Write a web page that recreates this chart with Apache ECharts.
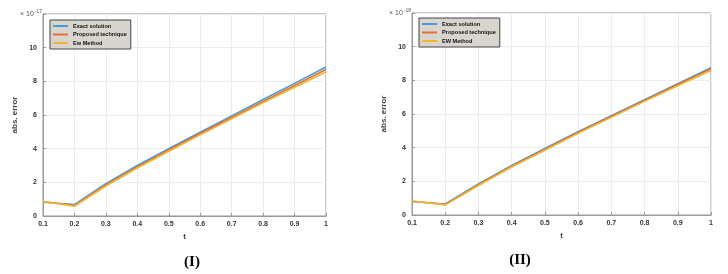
<!DOCTYPE html>
<html><head><meta charset="utf-8">
<script src="https://cdn.jsdelivr.net/npm/echarts@6/dist/echarts.min.js"></script>
<style>html,body{margin:0;padding:0;background:#fff}#c{width:728px;height:274px}</style>
</head><body><div id="c"></div>
<script>
var tValues = [0.1,0.2,0.3,0.4,0.5,0.6,0.7,0.8,0.9,1.0];
var leftExact    = [0.82,0.68,1.92,3.00,4.00,4.98,5.95,6.92,7.88,8.85];
var leftProposed = [0.85,0.62,1.85,2.92,3.92,4.90,5.85,6.80,7.75,8.70];
var leftEW       = [0.87,0.58,1.78,2.85,3.85,4.82,5.77,6.72,7.65,8.55];
var rightExact    = [0.80,0.65,1.85,2.95,3.95,4.95,5.90,6.85,7.80,8.75];
var rightProposed = [0.82,0.62,1.80,2.90,3.90,4.90,5.85,6.80,7.75,8.68];
var rightEW       = [0.83,0.60,1.75,2.85,3.85,4.85,5.80,6.75,7.68,8.58];
var leftNames  = ['Exact solution','Proposed technique','Ew Method'];
var rightNames = ['Exact solution','Proposed technique','EW Method'];
var colors = ['#4a9ad6','#e4703a','#f0b72e'];

function pairs(v){ return tValues.map(function(t,i){ return [t, v[i]]; }); }
var font = 'Liberation Sans, Arial, sans-serif';
function xAx(gi){
  return {type:'value', gridIndex:gi, min:0.1, max:1, interval:0.1,
    name:'t', nameLocation:'middle', nameGap:16,
    nameTextStyle:{fontSize:8, fontWeight:'bold', color:'#444', fontFamily:font},
    axisLine:{show:true, lineStyle:{color:'#999'}},
    axisTick:{show:true, inside:true, length:3, lineStyle:{color:'#999'}},
    axisLabel:{fontSize:7, fontWeight:'bold', color:'#333', fontFamily:font, margin:5,
      formatter:function(v){ var r=Math.round(v*10)/10; return r===1?'1':r.toFixed(1);} },
    splitLine:{show:true, lineStyle:{color:'#ececec'}}};
}
function yAx(gi){
  return {type:'value', gridIndex:gi, min:0, max:12, interval:2,
    name:'abs. error', nameLocation:'middle', nameGap:24, nameRotate:90,
    nameTextStyle:{fontSize:8, fontWeight:'bold', color:'#444', fontFamily:font},
    axisLine:{show:true, lineStyle:{color:'#999'}},
    axisTick:{show:true, inside:true, length:3, lineStyle:{color:'#999'}},
    axisLabel:{fontSize:7, fontWeight:'bold', color:'#333', fontFamily:font, margin:6,
      formatter:function(v){ return v===12?'':String(v);} },
    splitLine:{show:true, lineStyle:{color:'#ececec'}}};
}
function ser(name, data, xi, ci){
  return {type:'line', name:name, xAxisIndex:xi, yAxisIndex:xi, data:pairs(data),
    showSymbol:false, symbol:'none', lineStyle:{width:1.6, color:colors[ci]}, itemStyle:{color:colors[ci]},
    animation:false};
}
function legend(names, left, top){
  return {data:names, orient:'vertical', left:left, top:top, icon:'rect',
    itemWidth:15, itemHeight:2, itemGap:2.5, padding:[3,4,3,3],
    backgroundColor:'#d8d5cf', borderColor:'#444', borderWidth:1,
    textStyle:{fontSize:5.6, fontWeight:'bold', color:'#111', fontFamily:font, padding:[0,0,0,0], lineHeight:6}};
}
var chart = echarts.init(document.getElementById('c'), null, {renderer:'canvas'});
chart.setOption({
  animation:false,
  grid:[
    {left:43, right:402, top:14, bottom:58, show:true, borderColor:'#999', borderWidth:1},
    {left:412, right:17, top:13, bottom:59, show:true, borderColor:'#999', borderWidth:1}
  ],
  xAxis:[xAx(0), xAx(1)],
  yAxis:[yAx(0), yAx(1)],
  legend:[legend(leftNames, 50, 20), legend(rightNames, 419, 18)],
  series:[
    ser(leftNames[0], leftExact, 0, 0),
    ser(leftNames[1], leftProposed, 0, 1),
    ser(leftNames[2], leftEW, 0, 2),
    ser(rightNames[0], rightExact, 1, 0),
    ser(rightNames[1], rightProposed, 1, 1),
    ser(rightNames[2], rightEW, 1, 2)
  ],
  graphic:[
    {type:'text', left:20, top:9, style:{text:'{a|× 10}{b|-17}', rich:{a:{fontSize:7, fontFamily:font, fill:'#555'}, b:{fontSize:5, fontFamily:font, fill:'#555', verticalAlign:'top', padding:[0,0,5,1]}}}},
    {type:'text', left:389, top:8, style:{text:'{a|× 10}{b|-18}', rich:{a:{fontSize:7, fontFamily:font, fill:'#555'}, b:{fontSize:5, fontFamily:font, fill:'#555', verticalAlign:'top', padding:[0,0,5,1]}}}},
    {type:'text', x:192, y:262, style:{text:'(I)', font:'bold 15px "Liberation Serif", "Times New Roman", serif', fill:'#000', align:'center', verticalAlign:'middle'}},
    {type:'text', x:520, y:260, style:{text:'(II)', font:'bold 15px "Liberation Serif", "Times New Roman", serif', fill:'#000', align:'center', verticalAlign:'middle'}}
  ]
});
</script></body></html>
